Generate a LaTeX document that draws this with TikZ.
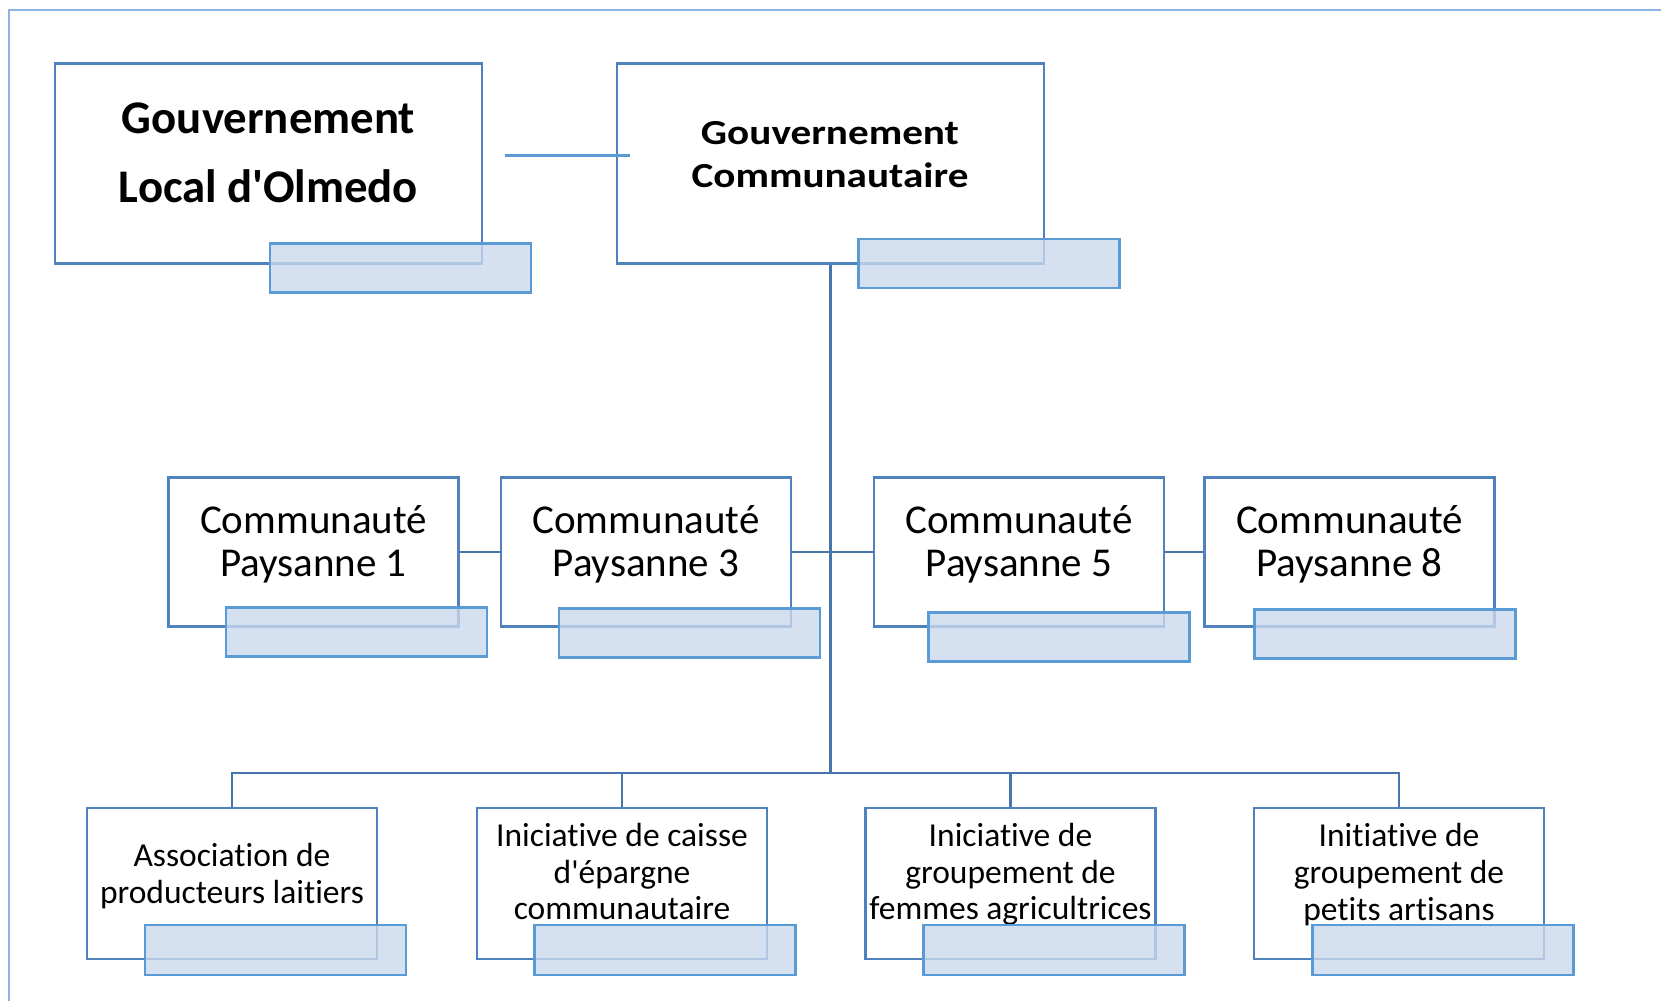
\documentclass[tikz,border=0pt]{standalone}
\usepackage{fontspec}
\setmainfont{Carlito}[Ligatures={TeXOff,NoCommon}]
\newfontfamily\gcomfont[FakeStretch=1.17,Ligatures={TeXOff,NoCommon}]{Carlito}
\definecolor{boxblue}{RGB}{79,129,189}
\definecolor{linkblue}{RGB}{70,118,172}
\definecolor{tagblue}{RGB}{91,155,213}
\definecolor{tagfill}{RGB}{202,216,236}
\definecolor{frameblue}{RGB}{141,179,226}
\begin{document}
\begin{tikzpicture}[x=0.5pt,y=-0.5pt,
  box/.style={draw=boxblue,line width=1.1pt,fill=white,inner sep=0pt},
  tag/.style={draw=tagblue,line width=1.1pt,fill=tagfill,fill opacity=0.8,
    minimum width=130.5pt,minimum height=24.5pt,inner sep=0pt},
  link/.style={draw=linkblue,line width=1.1pt},
  lbl/.style={align=center,inner sep=0pt},
  top/.style={box,minimum width=213.5pt,minimum height=100pt},
  com/.style={box,minimum width=145pt,minimum height=74.5pt},
  ini/.style={box,minimum width=145pt,minimum height=75.5pt},
  comtxt/.style={lbl,font=\fontsize{20.5}{21.6}\selectfont},
  initxt/.style={lbl,font=\fontsize{16.75}{18.3}\selectfont}]
\useasboundingbox (0,0) rectangle (1661,1001);
\draw[frameblue,line width=1pt] (8.5,1001) |- (1661,9.5);

\node[top] (gloc) at (268.5,163.5) {};
\node[top] (gcom) at (830.5,163.5) {};
\node[com] (cp1) at (313.5,552) {};
\node[com] (cp3) at (646,552) {};
\node[com] (cp5) at (1019,552) {};
\node[com] (cp8) at (1349.5,552) {};
\node[ini] (a1) at (232,883.5) {};
\node[ini] (a2) at (622,883.5) {};
\node[ini] (a3) at (1010.5,883.5) {};
\node[ini] (a4) at (1399,883.5) {};
\coordinate (bus) at (830.5,773);

\draw[tagblue,line width=1.2pt] ([shift={(22,-8)}]gloc.east) -- ([shift={(14.5,-8)}]gcom.west);
\draw[link,line width=1.6pt] (gcom.south) -- (bus);
\draw[link,line width=1.4pt] (cp1.east) -- (cp3.west);
\draw[link,line width=1.4pt] (cp3.east) -- (cp5.west);
\draw[link,line width=1.4pt] (cp5.east) -- (cp8.west);
\draw[link] (a1.north) |- (bus) -| (a4.north);
\draw[link] (a2.north) -- (a2.north |- bus);
\draw[link] (a3.north) -- (a3.north |- bus);

\node[lbl,font=\bfseries\fontsize{23.4}{34.25}\selectfont] (gloc-txt) at (268.5,153) {Gouvernement\\Local d'Olmedo};
\node[lbl,font=\gcomfont\bfseries\fontsize{17.6}{21.8}\selectfont] (gcom-txt) at (830,154.5) {Gouvernement\\Communautaire};
\node[comtxt] (cp1-txt) at (313.5,544) {Communauté\\Paysanne 1};
\node[comtxt] (cp3-txt) at (646,544) {Communauté\\Paysanne 3};
\node[comtxt] (cp5-txt) at (1019,544) {Communauté\\Paysanne 5};
\node[comtxt] (cp8-txt) at (1349.5,544) {Communauté\\Paysanne 8};
\node[initxt] (a1-txt) at (232,876) {Association de\\producteurs laitiers};
\node[initxt] (a2-txt) at (622,871.5) {Iniciative de caisse\\d'épargne\\communautaire};
\node[initxt] (a3-txt) at (1010.5,874.5) {Iniciative de\\groupement de\\femmes agricultrices};
\node[initxt] (a4-txt) at (1399,874.5) {Initiative de\\groupement de\\petits artisans};

\node[tag] (gloc-tag) at (400.5,268) {};
\node[tag] (gcom-tag) at (989,263.5) {};
\node[tag] (cp1-tag) at (356.5,632) {};
\node[tag] (cp3-tag) at (689.5,633) {};
\node[tag] (cp5-tag) at (1059,637) {};
\node[tag] (cp8-tag) at (1385,634) {};
\node[tag,minimum height=25pt] (a1-tag) at (275.5,950) {};
\node[tag,minimum height=25pt] (a2-tag) at (665,950) {};
\node[tag,minimum height=25pt] (a3-tag) at (1054,950) {};
\node[tag,minimum height=25pt] (a4-tag) at (1443,950) {};
\end{tikzpicture}
\end{document}
